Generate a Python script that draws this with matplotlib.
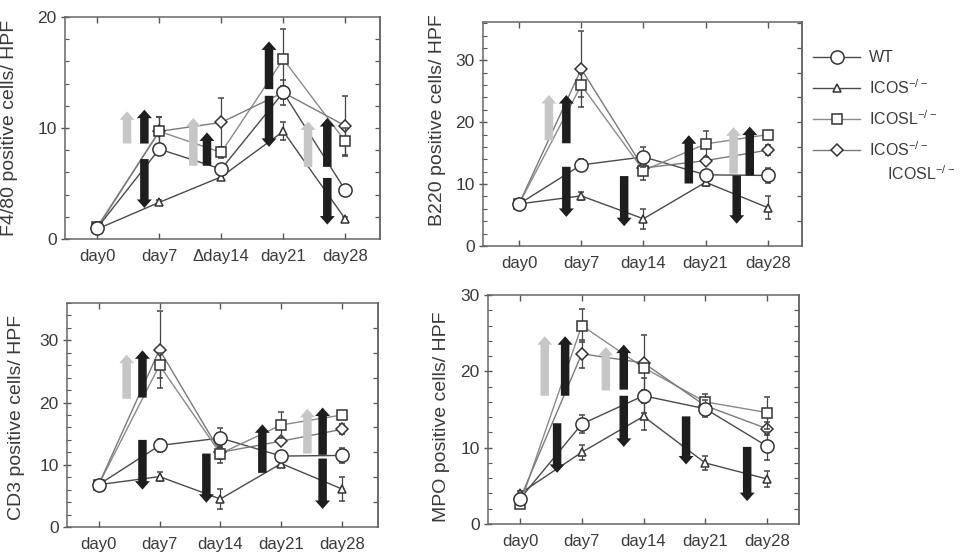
import matplotlib
matplotlib.use("Agg")
import matplotlib.pyplot as plt
from matplotlib.patches import FancyArrow
from matplotlib.lines import Line2D
import numpy as np

plt.rcParams['font.family'] = ['Liberation Sans', 'DejaVu Sans']
plt.rcParams['mathtext.fontset'] = 'custom'
plt.rcParams['mathtext.rm'] = 'Liberation Sans'
TXT = '#3a3a3a'
plt.rcParams['text.color'] = TXT
plt.rcParams['axes.labelcolor'] = TXT
plt.rcParams['xtick.color'] = '#555555'
plt.rcParams['ytick.color'] = '#555555'
plt.rcParams['xtick.labelcolor'] = TXT
plt.rcParams['ytick.labelcolor'] = TXT

# ---------------- data ----------------
days = ['day0', 'day7', 'day14', 'day21', 'day28']
days_f480 = ['day0', 'day7', '\u0394day14', 'day21', 'day28']
series_names = ['WT', 'ICOS-/-', 'ICOSL-/-', 'ICOS-/- ICOSL-/-']

# F4/80
f480_wt = [1.0, 8.1, 6.3, 13.2, 4.4]
f480_icos = [0.9, 3.3, 5.6, 9.7, 1.8]
f480_icosl = [1.1, 9.7, 7.8, 16.2, 8.8]
f480_dko = [1.0, 9.7, 10.5, 13.2, 10.2]
f480_wt_err = [0.2, 0.5, 0.4, 1.1, 0.5]
f480_icos_err = [0.1, 0.2, 0.3, 0.8, 0.2]
f480_icosl_err = [0.2, 1.3, 0.5, 2.7, 1.2]
f480_dko_err = [0.2, 1.3, 2.2, 0.6, 2.7]

# B220
b220_wt = [6.8, 13.1, 14.4, 11.5, 11.4]
b220_icos = [6.8, 8.1, 4.4, 10.3, 6.2]
b220_icosl = [6.8, 26.0, 12.2, 16.5, 18.0]
b220_dko = [6.8, 28.6, 12.6, 13.8, 15.5]
b220_wt_err = [0.3, 1.0, 1.6, 0.6, 1.2]
b220_icos_err = [0.2, 0.7, 1.6, 0.6, 1.9]
b220_icosl_err = [0.3, 2.0, 1.5, 2.1, 0.5]
b220_dko_err = [0.3, 6.2, 1.0, 0.5, 0.8]

# CD3
cd3_wt = [6.8, 13.1, 14.3, 11.4, 11.5]
cd3_icos = [6.8, 8.1, 4.5, 10.2, 6.1]
cd3_icosl = [6.8, 26.0, 11.8, 16.4, 18.0]
cd3_dko = [6.8, 28.5, 12.0, 13.8, 15.7]
cd3_wt_err = [0.3, 1.0, 1.6, 0.6, 1.2]
cd3_icos_err = [0.2, 0.7, 1.6, 0.6, 1.9]
cd3_icosl_err = [0.3, 2.0, 1.5, 2.1, 0.5]
cd3_dko_err = [0.3, 6.2, 1.0, 0.5, 0.8]

# MPO
mpo_wt = [3.3, 13.1, 16.8, 15.1, 10.2]
mpo_icos = [4.0, 9.4, 14.1, 8.0, 5.9]
mpo_icosl = [2.6, 26.0, 20.5, 16.0, 14.6]
mpo_dko = [3.3, 22.3, 21.1, 15.5, 12.5]
mpo_wt_err = [0.5, 1.2, 2.3, 1.1, 1.8]
mpo_icos_err = [0.3, 1.0, 1.8, 0.9, 1.0]
mpo_icosl_err = [0.4, 2.2, 0.5, 1.0, 2.1]
mpo_dko_err = [0.3, 1.8, 3.6, 0.8, 0.8]

# annotation arrows: (x position, start value, end value, colour key)
f480_arrows = [(0.48, 8.6, 11.5, 'g'), (0.76, 8.6, 11.65, 'k'), (0.76, 7.2, 2.8, 'k'),
               (1.55, 6.6, 10.9, 'g'), (1.77, 6.6, 9.6, 'k'), (2.77, 13.5, 17.8, 'k'),
               (2.77, 12.9, 8.3, 'k'), (3.40, 6.5, 10.6, 'g'), (3.71, 6.5, 10.9, 'k'),
               (3.71, 5.5, 1.3, 'k')]
b220_arrows = [(0.48, 17.1, 24.4, 'g'), (0.76, 16.6, 24.4, 'k'), (0.76, 12.8, 4.7, 'k'),
               (1.69, 11.3, 3.2, 'k'), (2.73, 10.1, 17.9, 'k'), (3.45, 11.7, 19.2, 'g'),
               (3.50, 11.4, 3.6, 'k'), (3.71, 11.4, 19.3, 'k')]
cd3_arrows = [(0.46, 20.6, 27.7, 'g'), (0.72, 20.8, 28.4, 'k'), (0.72, 14.0, 6.0, 'k'),
              (1.77, 11.8, 3.9, 'k'), (2.69, 8.7, 16.5, 'k'), (3.43, 11.8, 19.0, 'g'),
              (3.68, 11.6, 19.2, 'k'), (3.68, 11.0, 2.9, 'k')]
mpo_arrows = [(0.40, 16.8, 24.6, 'g'), (0.73, 16.8, 24.6, 'k'), (0.60, 13.2, 6.7, 'k'),
              (1.39, 17.5, 23.2, 'g'), (1.68, 17.6, 23.5, 'k'), (1.68, 16.8, 10.1, 'k'),
              (2.69, 14.1, 7.8, 'k'), (3.68, 10.1, 3.0, 'k')]

# ---------------- style ----------------
ARROW_COL = {'k': '#1e1e1e', 'g': '#c6c6c6'}
styles = [
    dict(marker='o', ms=9.5, lc='#4a4a4a', z=7),
    dict(marker='^', ms=5.5, lc='#4a4a4a', z=6),
    dict(marker='s', ms=6.5, lc='#8a8a8a', z=5),
    dict(marker='D', ms=6.0, lc='#7a7a7a', z=4),
]

fig = plt.figure(figsize=(9.6, 5.57), dpi=100)
W, H = 960.0, 557.0


def make_axes(l, r, t, b):
    return fig.add_axes([l / W, 1 - b / H, (r - l) / W, (b - t) / H])


panels = [
    dict(box=(65, 380, 17, 239), series=[f480_wt, f480_icos, f480_icosl, f480_dko],
         errs=[f480_wt_err, f480_icos_err, f480_icosl_err, f480_dko_err],
         arrows=f480_arrows, ylim=(0, 20), yticks=[0, 10, 20], rstep=2,
         xlim=(-0.52, 4.56), labels=days_f480, ylabel='F4/80 positive cells/ HPF',
         lab=(-0.150, 0.5)),
    dict(box=(483, 802, 22, 246), series=[b220_wt, b220_icos, b220_icosl, b220_dko],
         errs=[b220_wt_err, b220_icos_err, b220_icosl_err, b220_dko_err],
         arrows=b220_arrows, ylim=(0, 36.2), yticks=[0, 10, 20, 30], rstep=4,
         xlim=(-0.58, 4.55), labels=days, ylabel='B220 positive cells/ HPF',
         lab=(-0.115, 0.56)),
    dict(box=(67, 378, 303, 527), series=[cd3_wt, cd3_icos, cd3_icosl, cd3_dko],
         errs=[cd3_wt_err, cd3_icos_err, cd3_icosl_err, cd3_dko_err],
         arrows=cd3_arrows, ylim=(0, 36), yticks=[0, 10, 20, 30], rstep=4,
         xlim=(-0.52, 4.59), labels=days, ylabel='CD3 positive cells/ HPF',
         lab=(-0.135, 0.49)),
    dict(box=(488, 799, 295, 524), series=[mpo_wt, mpo_icos, mpo_icosl, mpo_dko],
         errs=[mpo_wt_err, mpo_icos_err, mpo_icosl_err, mpo_dko_err],
         arrows=mpo_arrows, ylim=(0, 30), yticks=[0, 10, 20, 30], rstep=2,
         xlim=(-0.52, 4.52), labels=days, ylabel='MPO positive cells/ HPF',
         lab=(-0.122, 0.47)),
]

x = np.arange(len(days))

for p in panels:
    ax = make_axes(*p['box'])
    ax.set_xlim(*p['xlim'])
    ax.set_ylim(*p['ylim'])
    # lines
    for vals, st in zip(p['series'], styles):
        ax.plot(x, vals, color=st['lc'], lw=1.0, zorder=2)
    # arrows
    dpp = (p['ylim'][1] - p['ylim'][0]) / ax.bbox.height
    xpp = (p['xlim'][1] - p['xlim'][0]) / ax.bbox.width
    for xa, y0, y1, c in p['arrows']:
        ax.add_patch(FancyArrow(xa, y0, 0, y1 - y0, width=8.5 * xpp, head_width=15 * xpp,
                                head_length=8.5 * dpp, length_includes_head=True,
                                color=ARROW_COL[c], lw=0, zorder=3))
    # markers + error bars
    for vals, errs, st in zip(p['series'], p['errs'], styles):
        ax.errorbar(x, vals, yerr=errs, fmt=st['marker'], ms=st['ms'], mfc='white',
                    mec='#333333', mew=1.1, ecolor='#444444', elinewidth=0.9,
                    capsize=2.5, capthick=0.9, zorder=st['z'])
    ax.set_xticks(x, p['labels'])
    ax.set_yticks(p['yticks'])
    ax.set_yticks(np.arange(0, p['ylim'][1] + 0.01, 2), minor=True)
    ax.tick_params(axis='y', which='major', direction='inout', length=6, width=1,
                   labelsize=12.5, pad=3, right=False)
    ax.tick_params(axis='y', which='minor', direction='in', length=3, width=0.8, right=False)
    ax.tick_params(axis='x', which='major', direction='in', length=4, width=1, top=True,
                   labelsize=12, pad=7)
    sec = ax.secondary_yaxis('right')
    sec.set_yticks(np.arange(p['rstep'], p['ylim'][1], p['rstep']))
    sec.tick_params(direction='in', length=3.5, width=0.9, labelright=False)
    sec.spines['right'].set_color('#666666')
    sec.spines['right'].set_linewidth(1.1)
    for s in ax.spines.values():
        s.set_color('#666666')
        s.set_linewidth(1.1)
    ax.set_ylabel(p['ylabel'], fontsize=14)
    ax.yaxis.set_label_coords(*p['lab'])

# ---------------- legend (drawn manually) ----------------
legend_labels = [r'WT', r'ICOS$^{\mathregular{-/-}}$', r'ICOSL$^{\mathregular{-/-}}$',
                 r'ICOS$^{\mathregular{-/-}}$']
rows_px = [57, 88, 119, 150]
for lab, st, ypx in zip(legend_labels, styles, rows_px):
    yf = 1 - ypx / H
    fig.add_artist(Line2D([813 / W, 836.5 / W, 860 / W], [yf, yf, yf], color=st['lc'], lw=1.0,
                          marker=st['marker'], markevery=[1], ms=st['ms'], mfc='white',
                          mec='#333333', mew=1.1))
    fig.text(869 / W, yf, lab, va='center', ha='left', fontsize=11.5)
fig.text(887 / W, 1 - 174 / H, r'ICOSL$^{\mathregular{-/-}}$', va='center', ha='left',
         fontsize=11.5)

fig.savefig('out.png', dpi=100, facecolor='white')
